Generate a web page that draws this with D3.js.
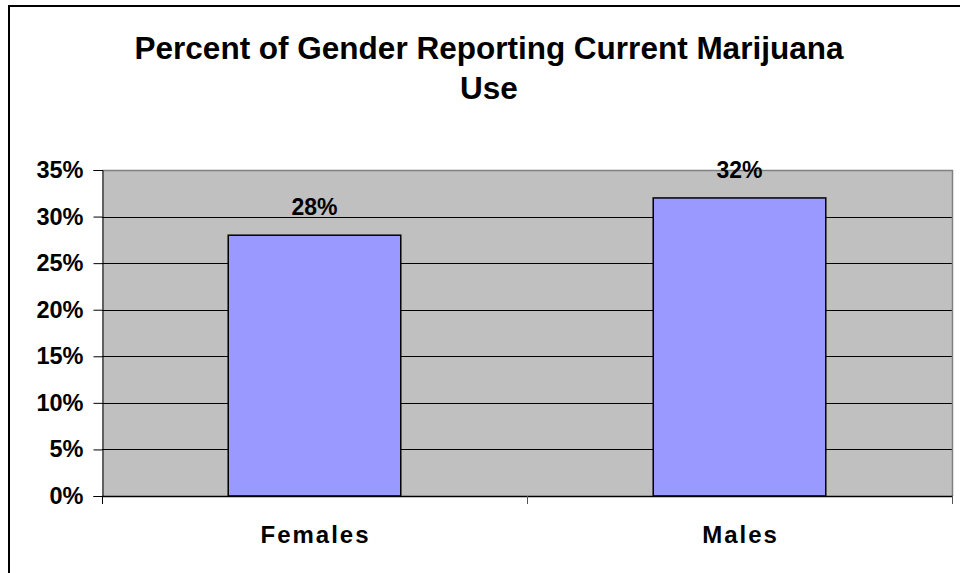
<!DOCTYPE html>
<html>
<head>
<meta charset="utf-8">
<script src="https://cdn.jsdelivr.net/npm/d3@7"></script>
<style>
  body { margin: 0; background: #fff; }
  svg { display: block; font-family: "Liberation Sans", Arial, sans-serif; font-weight: bold; }
</style>
</head>
<body>
<div class="chart"></div>
<script>
// Data
const categories = ['Females', 'Males'];
const values = [28, 32];
const yTicks = [0, 5, 10, 15, 20, 25, 30, 35];
const titleLines = ['Percent of Gender Reporting Current Marijuana', 'Use'];

// Layout
const W = 960, H = 573;
const plot = { left: 102, right: 952, top: 170, bottom: 496 };

const svg = d3.select('.chart')
    .append('svg')
    .attr('width', W)
    .attr('height', H);

// Outer chart border (runs off the right and bottom edges)
svg.append('rect')
    .attr('x', 9).attr('y', 6)
    .attr('width', 1000).attr('height', 1000)
    .attr('fill', 'none')
    .attr('stroke', '#000')
    .attr('stroke-width', 2);

// Title
svg.append('g')
    .selectAll('text')
    .data(titleLines)
    .enter()
    .append('text')
    .attr('x', 489)
    .attr('y', (d, i) => 59 + i * 40)
    .attr('text-anchor', 'middle')
    .attr('font-size', 31.5)
    .text(d => d);

// Scales
const x = d3.scaleBand()
    .domain(categories)
    .range([plot.left, plot.right])
    .paddingInner(0.594)
    .paddingOuter(0.297);

const y = d3.scaleLinear()
    .domain([0, 35])
    .range([plot.bottom, plot.top]);

// Plot background
svg.append('rect')
    .attr('x', plot.left).attr('y', plot.top)
    .attr('width', plot.right - plot.left)
    .attr('height', plot.bottom - plot.top)
    .attr('fill', '#c0c0c0');

// Gridlines
svg.append('g')
    .selectAll('line')
    .data(yTicks.filter(d => d > 0 && d < 35))
    .enter()
    .append('line')
    .attr('x1', plot.left).attr('x2', plot.right)
    .attr('y1', d => Math.round(y(d)) + 0.5)
    .attr('y2', d => Math.round(y(d)) + 0.5)
    .attr('stroke', '#000');

// Plot area top / right border
svg.append('path')
    .attr('d', `M${plot.left},${plot.top + 0.5}H${plot.right + 0.5}V${plot.bottom}`)
    .attr('fill', 'none')
    .attr('stroke', '#808080')
    .attr('stroke-width', 1.5);

// Bars
svg.append('g')
    .selectAll('rect')
    .data(values)
    .enter()
    .append('rect')
    .attr('x', (d, i) => x(categories[i]))
    .attr('y', d => y(d))
    .attr('width', x.bandwidth())
    .attr('height', d => y(0) - y(d))
    .attr('fill', '#9999ff')
    .attr('stroke', '#000')
    .attr('stroke-width', 1.5);

// Value labels
svg.append('g')
    .selectAll('text')
    .data(values)
    .enter()
    .append('text')
    .attr('x', (d, i) => x(categories[i]) + x.bandwidth() / 2)
    .attr('y', d => y(d) - 20)
    .attr('text-anchor', 'middle')
    .attr('font-size', 23)
    .text(d => d + '%');

// Y axis
const yAxis = svg.append('g')
    .attr('transform', `translate(${plot.left + 0.5},0)`)
    .call(d3.axisLeft(y).tickValues(yTicks).tickSize(9).tickPadding(10).tickFormat(d => d + '%'));
yAxis.select('.domain').attr('stroke', '#000');
yAxis.selectAll('.tick line').attr('stroke', '#000');
yAxis.selectAll('text')
    .attr('font-size', 23.5)
    .attr('font-family', '"Liberation Sans", Arial, sans-serif')
    .attr('font-weight', 'bold')
    .attr('fill', '#000');

// X axis line and category ticks
svg.append('line')
    .attr('x1', plot.left).attr('x2', plot.right + 1)
    .attr('y1', plot.bottom + 0.5).attr('y2', plot.bottom + 0.5)
    .attr('stroke', '#000')
    .attr('stroke-width', 1.5);

const catEdges = [plot.left, x(categories[1]) - x.step() * x.paddingInner() / 2, plot.right];
svg.append('g')
    .selectAll('line')
    .data(catEdges)
    .enter()
    .append('line')
    .attr('x1', d => Math.round(d) + 0.5).attr('x2', d => Math.round(d) + 0.5)
    .attr('y1', plot.bottom).attr('y2', plot.bottom + 8)
    .attr('stroke', (d, i) => i === 0 ? '#000' : '#555');

// Category labels
svg.append('g')
    .selectAll('text')
    .data(categories)
    .enter()
    .append('text')
    .attr('x', d => x(d) + x.bandwidth() / 2 + 1)
    .attr('y', 543)
    .attr('text-anchor', 'middle')
    .attr('font-size', 24)
    .attr('letter-spacing', 2)
    .text(d => d);
</script>
</body>
</html>
